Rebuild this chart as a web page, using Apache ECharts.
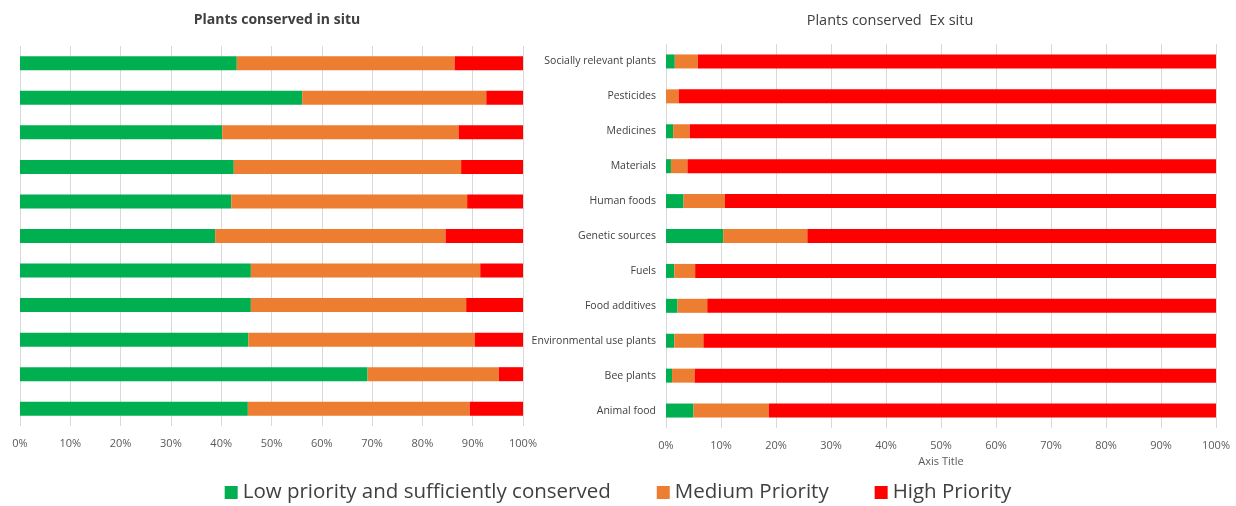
<!DOCTYPE html>
<html>
<head>
<meta charset="utf-8">
<script src="https://cdn.jsdelivr.net/npm/echarts@6/dist/echarts.min.js"></script>
<style>
  html, body { margin: 0; padding: 0; background: #fff; }
  #chart { width: 1236px; height: 506px; }
</style>
</head>
<body>
<div id="chart"></div>
<script>
// categories, bottom to top (Excel bar order)
const categories = [
  "Animal food", "Bee plants", "Environmental use plants", "Food additives", "Fuels",
  "Genetic sources", "Human foods", "Materials", "Medicines", "Pesticides", "Socially relevant plants"
];
const seriesNames = ["Low priority and sufficiently conserved", "Medium Priority", "High Priority"];
const colors = ["#00B050", "#ED7D31", "#FF0000"];

// in situ (%)
const inSituLow = [45.3, 69.1, 45.4, 45.9, 45.9, 38.8, 42.0, 42.5, 40.2, 56.1, 43.1];
const inSituMedium = [44.1, 26.1, 45.0, 42.8, 45.6, 45.8, 46.9, 45.2, 47.0, 36.6, 43.3];
const inSituHigh = [10.6, 4.8, 9.6, 11.3, 8.5, 15.4, 11.1, 12.3, 12.8, 7.3, 13.6];

// ex situ (%)
const exSituLow = [5.0, 1.1, 1.5, 2.1, 1.5, 10.4, 3.2, 0.9, 1.3, 0, 1.6];
const exSituMedium = [13.7, 4.1, 5.3, 5.4, 3.8, 15.3, 7.5, 3.0, 3.0, 2.3, 4.2];
const exSituHigh = [81.3, 94.8, 93.2, 92.5, 94.7, 74.3, 89.3, 96.1, 95.7, 97.7, 94.2];

const font = "'Open Sans', 'Noto Sans', sans-serif";
const chart = echarts.init(document.getElementById("chart"));

const xAxisCommon = {
  type: "value",
  min: 0,
  max: 100,
  interval: 10,
  axisLine: { show: false },
  axisTick: { show: false },
  axisLabel: { formatter: "{value}%", color: "#595959", fontSize: 11, fontFamily: font, margin: 12 },
  splitLine: { lineStyle: { color: "#d9d9d9", width: 1 } }
};
const yAxisCommon = {
  type: "category",
  data: categories,
  axisLine: { show: false },
  axisTick: { show: false }
};

const makeBar = (name, data, idx, stack, i) => ({
  name: name,
  type: "bar",
  stack: stack,
  xAxisIndex: idx,
  yAxisIndex: idx,
  barWidth: 14,
  itemStyle: { color: colors[i] },
  data: data
});

chart.setOption({
  animation: false,
  textStyle: { fontFamily: font },
  title: [
    { text: "Plants conserved in situ", left: 272, top: 8, textAlign: "center",
      textStyle: { fontSize: 14, fontWeight: "bold", color: "#404040", fontFamily: font } },
    { text: "Plants conserved  Ex situ", left: 885, top: 8, textAlign: "center",
      textStyle: { fontSize: 14.5, fontWeight: "normal", color: "#404040", fontFamily: font } }
  ],
  legend: {
    data: seriesNames,
    top: 477,
    left: "center",
    itemWidth: 13,
    itemHeight: 13,
    itemGap: 46,
    icon: "rect",
    textStyle: { fontSize: 20.5, color: "#404040", fontFamily: font }
  },
  grid: [
    { left: 20, right: 713, top: 46, height: 380 },
    { left: 666, right: 20, top: 44, height: 384 }
  ],
  xAxis: [
    Object.assign({ gridIndex: 0 }, xAxisCommon),
    Object.assign({ gridIndex: 1, name: "Axis Title", nameLocation: "middle", nameGap: 28,
      nameTextStyle: { color: "#595959", fontSize: 11, fontFamily: font } }, xAxisCommon)
  ],
  yAxis: [
    Object.assign({ gridIndex: 0, axisLabel: { show: false } }, yAxisCommon),
    Object.assign({ gridIndex: 1, axisLabel: { color: "#404040", fontSize: 10.5, fontFamily: font, margin: 10 } }, yAxisCommon)
  ],
  series: [
    makeBar(seriesNames[0], inSituLow, 0, "in", 0),
    makeBar(seriesNames[1], inSituMedium, 0, "in", 1),
    makeBar(seriesNames[2], inSituHigh, 0, "in", 2),
    makeBar(seriesNames[0], exSituLow, 1, "ex", 0),
    makeBar(seriesNames[1], exSituMedium, 1, "ex", 1),
    makeBar(seriesNames[2], exSituHigh, 1, "ex", 2)
  ]
});
</script>
</body>
</html>
